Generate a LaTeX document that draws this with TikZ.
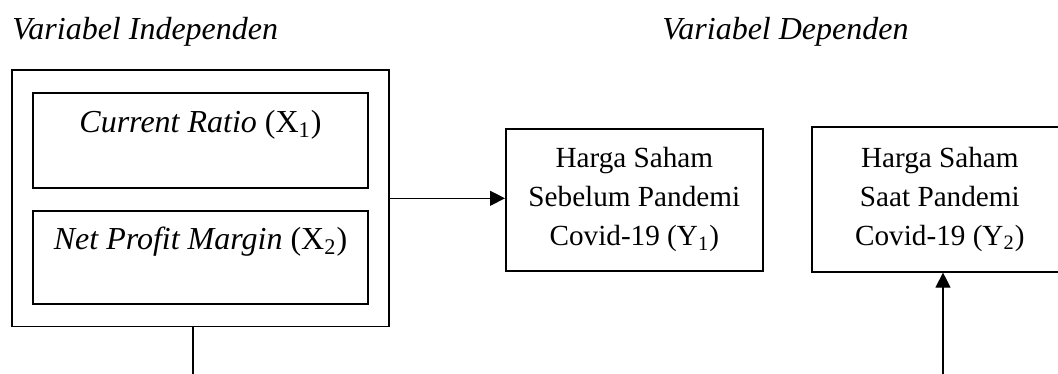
\documentclass[tikz,border=0pt]{standalone}
\usepackage{fontspec}
\setmainfont{Liberation Serif}
\usetikzlibrary{arrows.meta,positioning,fit}

\tikzset{
  varbox/.style={draw,line width=0.8pt,inner sep=0pt,minimum width=167.5pt,
    text height=20pt,text depth=27.5pt,font=\fontsize{16}{19}\selectfont},
  depbox/.style={draw,line width=0.8pt,inner sep=0pt,align=center,
    font=\fontsize{14.6}{19.5}\selectfont},
  conn/.style={line width=0.6pt},
  tip/.style={-{Triangle[length=7.5pt,width=7.5pt]}},
  title/.style={anchor=base west,inner sep=0pt,font=\fontsize{16}{19}\selectfont\itshape}
}

\begin{document}
\begin{tikzpicture}[x=0.5pt,y=-0.5pt]
  \useasboundingbox (0,0) rectangle (1058,374);
  % Titles
  \node[title] (tind) at (12,40) {Variabel Independen};
  \node[title] (tdep) at (662,40) {Variabel Dependen};
  % Independent variables
  \node[varbox,anchor=north] (cr) at (200.5,92) {\textit{Current Ratio} (X\textsubscript{1})};
  \node[varbox,anchor=north,text height=19.5pt,text depth=27pt] (npm) at (200.5,210) {\textit{Net Profit Margin} (X\textsubscript{2})};
  \node[draw,line width=0.8pt,inner xsep=10pt,inner ysep=11pt,fit=(cr)(npm)] (indep) {};
  % Dependent variables
  \node[depbox,minimum width=128.5pt,minimum height=71pt,anchor=north west] (y1) at (505,128)
    {Harga Saham\\Sebelum Pandemi\\Covid-19 (Y\textsubscript{1})};
  \node[depbox,minimum width=128pt,minimum height=72.5pt,anchor=north west] (y2) at (811,126)
    {Harga Saham\\Saat Pandemi\\Covid-19 (Y\textsubscript{2})};
  % Connectors
  \coordinate (indend) at (193,374);
  \coordinate (depend) at (943,374);
  \draw[conn,tip] (indep.east) -- (indep.east -| y1.west);
  \draw[conn] (indep.south -| indend) -- (indend);
  \draw[conn,tip] (depend) -- (depend |- y2.south);
\end{tikzpicture}
\end{document}
